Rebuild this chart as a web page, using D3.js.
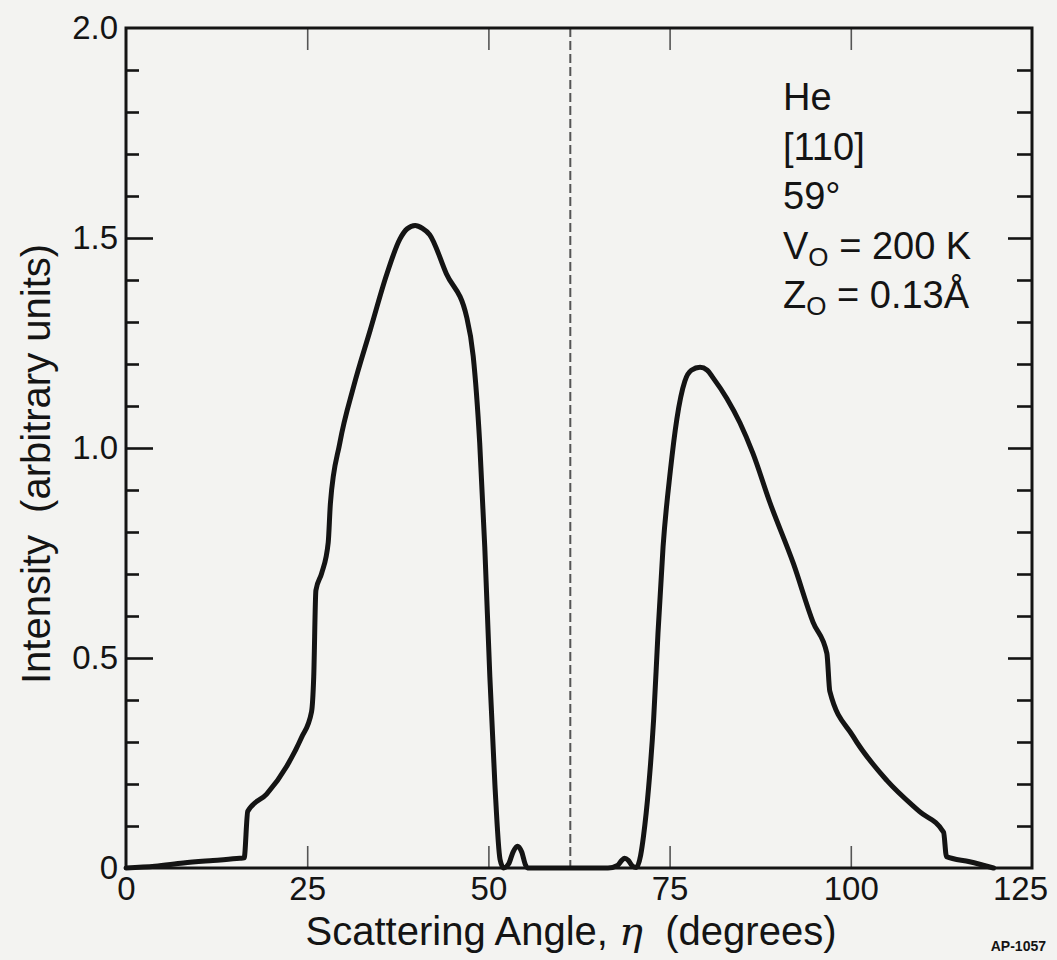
<!DOCTYPE html>
<html><head><meta charset="utf-8">
<script src="https://cdn.jsdelivr.net/npm/d3@7"></script>
<style>html,body{margin:0;padding:0;background:#f3f3f1;} svg{display:block;}</style>
</head><body>
<svg id="chart" width="1057" height="960"></svg>
<script>
// ---- data ----
const angles = [0, 4, 7.9, 12.0, 15.7, 16.3, 16.8, 19.4, 22.2, 24.2, 25.6, 25.9, 26.2, 27.0, 27.9, 28.2, 29.5, 31.4, 33.7, 36.0, 37.8, 38.8, 39.9, 40.9, 41.9, 44.2, 47.0, 47.9, 48.8, 49.5, 50.2, 50.9, 51.6, 52.1, 52.8, 53.4, 54.0, 54.6, 55.1, 55.4, 66.5, 67.8, 68.4, 68.8, 69.3, 69.9, 70.4, 71.0, 71.4, 72.1, 72.8, 73.4, 74.1, 75.1, 76.0, 77.1, 78.0, 79.2, 80.2, 81.0, 82.9, 84.7, 86.5, 88.8, 92.1, 94.8, 96.7, 97.1, 100.3, 105.0, 109.5, 112.8, 113.2, 116.4, 119.7];
const intensity = [0.0, 0.004, 0.012, 0.018, 0.023, 0.024, 0.135, 0.176, 0.243, 0.31, 0.372, 0.455, 0.661, 0.702, 0.775, 0.868, 1.012, 1.146, 1.281, 1.415, 1.498, 1.522, 1.53, 1.523, 1.508, 1.415, 1.312, 1.219, 1.012, 0.764, 0.455, 0.198, 0.021, 0.0, 0.01, 0.038, 0.052, 0.038, 0.008, 0.0, 0.0, 0.006, 0.018, 0.023, 0.018, 0.004, 0.001, 0.03, 0.076, 0.191, 0.355, 0.56, 0.765, 0.945, 1.069, 1.159, 1.185, 1.192, 1.185, 1.167, 1.118, 1.06, 0.987, 0.872, 0.724, 0.585, 0.511, 0.421, 0.314, 0.208, 0.134, 0.085, 0.027, 0.015, 0.0];
const xTickValues = [0, 25, 50, 75, 100, 125];
const xTickLabels = ["0", "25", "50", "75", "100", "125"];
const xInnerTicks = [25, 50, 75, 100];
const yTickValues = [0, 0.5, 1.0, 1.5, 2.0];
const yTickLabels = ["0", "0.5", "1.0", "1.5", "2.0"];
const yMinorStep = 0.1;
const specularAngle = 61.3;
const xTitleA = "Scattering Angle, ";
const xTitleEta = "\u03B7";
const xTitleB = "  (degrees)";
const yTitleA = "Intensity";
const yTitleB = "(arbitrary units)";
const noteLines = [
  [{t: "He"}],
  [{t: "[110]"}],
  [{t: "59\u00B0"}],
  [{t: "V"}, {t: "O", sub: true}, {t: " = 200 K"}],
  [{t: "Z"}, {t: "O", sub: true}, {t: " = 0.13\u00C5"}]
];
const figId = "AP-1057";

// ---- layout ----
const W = 1057, H = 960;
const L = 126, R = 1032, T = 28, B = 868;
const FONT = "'Liberation Sans', Arial, sans-serif";
const INK = "#141414";

const svg = d3.select("#chart");
svg.append("rect").attr("width", W).attr("height", H).attr("fill", "#f3f3f1");

const x = d3.scaleLinear().domain([0, 125]).range([L, R]);
const y = d3.scaleLinear().domain([0, 2.0]).range([B, T]);

const minorY = d3.range(0, 2.0001, yMinorStep).map(v => +v.toFixed(2))
  .filter(v => !yTickValues.some(m => Math.abs(m - v) < 1e-6));
const majorY = yTickValues.filter(v => v > 0 && v < 2.0);

function styleAxis(g, w, c) {
  g.select(".domain").remove();
  g.selectAll(".tick line").attr("stroke", c || INK).attr("stroke-width", w);
}

// left inward ticks
svg.append("g").attr("transform", `translate(${L},0)`)
  .call(d3.axisRight(y).tickValues(minorY).tickSize(13).tickFormat(""))
  .call(g => styleAxis(g, 2.6));
svg.append("g").attr("transform", `translate(${L},0)`)
  .call(d3.axisRight(y).tickValues(majorY).tickSize(27).tickFormat(""))
  .call(g => styleAxis(g, 2.6));
// right inward ticks
svg.append("g").attr("transform", `translate(${R},0)`)
  .call(d3.axisLeft(y).tickValues(minorY).tickSize(15).tickFormat(""))
  .call(g => styleAxis(g, 2.6));
svg.append("g").attr("transform", `translate(${R},0)`)
  .call(d3.axisLeft(y).tickValues(majorY).tickSize(24).tickFormat(""))
  .call(g => styleAxis(g, 2.6));
// bottom & top inward ticks
svg.append("g").attr("transform", `translate(0,${B})`)
  .call(d3.axisTop(x).tickValues(xInnerTicks).tickSize(22).tickFormat(""))
  .call(g => styleAxis(g, 1.6, "#555"));
svg.append("g").attr("transform", `translate(0,${T})`)
  .call(d3.axisBottom(x).tickValues(xInnerTicks).tickSize(22).tickFormat(""))
  .call(g => styleAxis(g, 1.6, "#555"));

// y labels
svg.append("g").attr("transform", `translate(${L},0)`)
  .call(d3.axisLeft(y).tickValues(yTickValues).tickSize(0).tickPadding(8)
    .tickFormat((d, i) => yTickLabels[i]))
  .call(g => {
    g.select(".domain").remove();
    g.selectAll("text").attr("font-family", FONT).attr("font-size", 33).attr("fill", INK);
  });
// x labels
svg.append("g").attr("transform", `translate(0,${B})`)
  .call(d3.axisBottom(x).tickValues(xTickValues).tickSize(0).tickPadding(9)
    .tickFormat((d, i) => xTickLabels[i]))
  .call(g => {
    g.select(".domain").remove();
    g.selectAll("text").attr("font-family", FONT).attr("font-size", 33).attr("fill", INK)
      .attr("dx", (d, i) => i === xTickValues.length - 1 ? -12 : 0);
  });

// dashed specular line
svg.append("line")
  .attr("x1", x(specularAngle)).attr("x2", x(specularAngle))
  .attr("y1", y(2.0)).attr("y2", y(0))
  .attr("stroke", "#555").attr("stroke-width", 2).attr("stroke-dasharray", "9,4");

// frame
svg.append("rect").attr("x", L).attr("y", T).attr("width", R - L).attr("height", B - T)
  .attr("fill", "none").attr("stroke", INK).attr("stroke-width", 3);

// curve
const pts = angles.map((a, i) => [a, intensity[i]]);
svg.append("path").datum(pts)
  .attr("d", d3.line().x(d => x(d[0])).y(d => y(d[1])).curve(d3.curveMonotoneX))
  .attr("fill", "none").attr("stroke", INK).attr("stroke-width", 5)
  .attr("stroke-linejoin", "round").attr("stroke-linecap", "round");

// titles
const xt = svg.append("text").attr("x", 571).attr("y", 945).attr("text-anchor", "middle")
  .attr("font-family", FONT).attr("font-size", 40).attr("fill", INK)
  .attr("xml:space", "preserve");
xt.append("tspan").text(xTitleA);
xt.append("tspan").attr("font-style", "italic").attr("font-family", "'DejaVu Serif', serif").text(xTitleEta);
xt.append("tspan").text(xTitleB);

const yt = svg.append("text").attr("transform", "translate(50,464) rotate(-90)")
  .attr("text-anchor", "middle").attr("font-family", FONT).attr("font-size", 40).attr("fill", INK)
  .attr("xml:space", "preserve");
yt.append("tspan").text(yTitleA + "  ");
yt.append("tspan").text(yTitleB);

// annotation block
const note = svg.append("g").attr("font-family", FONT).attr("font-size", 38).attr("fill", INK);
noteLines.forEach((segs, i) => {
  const t = note.append("text").attr("x", 783).attr("y", 110 + i * 49.5).attr("xml:space", "preserve");
  segs.forEach((s, j) => {
    const ts = t.append("tspan").text(s.t);
    if (s.sub) ts.attr("font-size", 26).attr("dy", 7);
    else if (j > 0 && segs[j - 1].sub) ts.attr("dy", -7);
  });
});

svg.append("text").attr("x", 1046).attr("y", 951).attr("text-anchor", "end")
  .attr("font-family", FONT).attr("font-size", 14).attr("font-weight", "bold")
  .attr("fill", INK).text(figId);
</script>
</body></html>
